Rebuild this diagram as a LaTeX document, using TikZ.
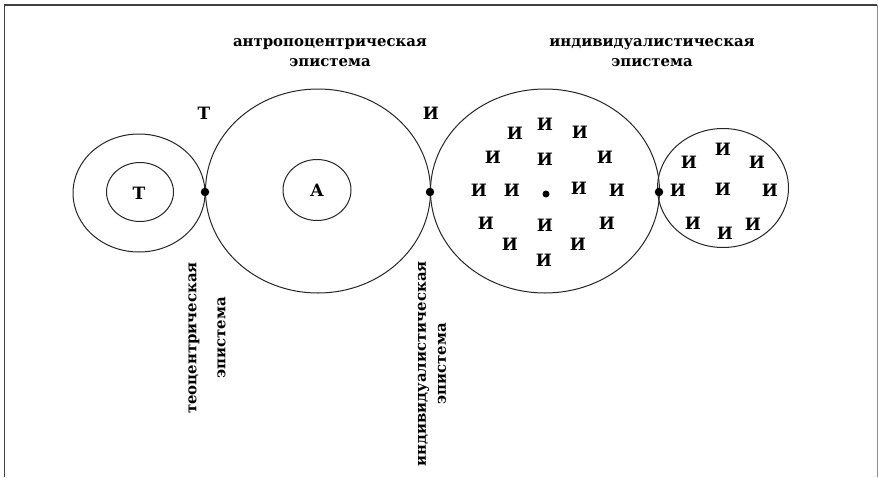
\documentclass[tikz,border=0pt]{standalone}
\usepackage{fontspec}
\setmainfont{DejaVu Serif}
\newfontfamily\labfont{DejaVu Serif}
\usetikzlibrary{shapes.geometric}
\begin{document}
\begin{tikzpicture}[x=1pt,y=-1pt,
  ring/.style={draw, ellipse, line width=1pt, black!85, inner sep=0pt},
  letter/.style={font=\bfseries\fontsize{17}{17}\selectfont, inner sep=0pt},
  caption/.style={font=\labfont\bfseries\fontsize{14.9}{20}\selectfont, align=center, inner sep=0pt},
  joint/.style={circle, fill=black, inner sep=0pt, minimum size=8.5pt}]
\useasboundingbox (0,0) rectangle (878,477);
\fill[white] (0,0) rectangle (878,477);
% frame
\draw[line width=1.5pt, black!75] (4.5,477) -- (4.5,5) -- (877,5);
\draw[line width=0.8pt, black!45] (877,5) -- (877,477);
% left (theocentric) circles
\node[ring, minimum width=132pt, minimum height=118pt] (tOuter) at (139,193) {};
\node[ring, minimum width=67pt, minimum height=59pt] (tInner) at (140,192) {};
\node[letter] (tLetter) at (139,193) {Т};
% anthropocentric
\node[ring, minimum width=225pt, minimum height=204pt] (aOuter) at (318,191) {};
\node[ring, minimum width=68pt, minimum height=61pt] (aInner) at (317,190) {};
\node[letter] (aLetter) at (317,190) {А};
% individualistic big
\node[ring, minimum width=229pt, minimum height=204pt] (iBig) at (545,191) {};
% small right
\node[ring, minimum width=131pt, minimum height=119pt] (iSmall) at (723,188) {};
% joints
\node[joint] (j1) at (205,192) {};
\node[joint] (j2) at (430,192) {};
\node[joint] (j3) at (659,192) {};
\node[circle, fill=black, inner sep=0pt, minimum size=7pt] (cdot) at (546,194) {};
% labels above joints
\node[letter] (tTop) at (204,113) {Т};
\node[letter] (iTop) at (431,113) {И};
% И in big circle
\foreach \px/\py [count=\k] in {545/124, 515/133, 580/132, 493/157, 545/159, 605/157,
  479/190, 512/190, 579/188, 617/190, 486/223, 545/225, 607/223, 510/244, 578/244, 544/260}
  \node[letter] (b\k) at (\px,\py) {И};
% И in small circle
\foreach \px/\py [count=\k] in {723/149, 689/162, 757/162, 678/190, 723/189, 770/190,
  693/223, 753/224, 725/233}
  \node[letter] (s\k) at (\px,\py) {И};
% captions
\node[caption] (capA) at (330,53) {антропоцентрическая\\эпистема};
\node[caption] (capI) at (652,53) {индивидуалистическая\\эпистема};
\node[caption, rotate=90, font=\labfont\bfseries\fontsize{14.9}{29}\selectfont] (capT) at (207,338) {теоцентрическая\\эпистема};
\node[caption, rotate=90] (capI2) at (432,364) {индивидуалистическая\\эпистема};
\end{tikzpicture}
\end{document}
